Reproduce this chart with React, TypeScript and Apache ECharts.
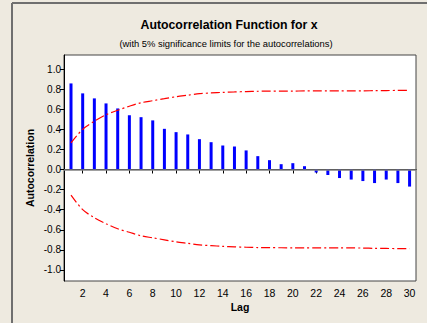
import React, { useEffect, useRef } from "react";
import * as echarts from "echarts";

const lags = [1, 2, 3, 4, 5, 6, 7, 8, 9, 10, 11, 12, 13, 14, 15, 16, 17, 18, 19, 20, 21, 22, 23, 24, 25, 26, 27, 28, 29, 30];
const acf = [0.857, 0.758, 0.708, 0.658, 0.608, 0.541, 0.521, 0.489, 0.405, 0.372, 0.349, 0.302, 0.272, 0.239, 0.229, 0.19, 0.133, 0.093, 0.053, 0.063, 0.033, -0.03, -0.055, -0.085, -0.1, -0.115, -0.135, -0.1, -0.135, -0.17];
const upperLimit = [0.265, 0.4, 0.48, 0.545, 0.59, 0.63, 0.665, 0.685, 0.705, 0.725, 0.74, 0.755, 0.762, 0.768, 0.772, 0.776, 0.779, 0.78, 0.781, 0.781, 0.782, 0.782, 0.782, 0.783, 0.783, 0.783, 0.785, 0.786, 0.787, 0.787];
const lowerLimit = [-0.255, -0.4, -0.48, -0.54, -0.59, -0.625, -0.66, -0.68, -0.7, -0.72, -0.735, -0.75, -0.758, -0.765, -0.77, -0.774, -0.777, -0.778, -0.779, -0.78, -0.78, -0.78, -0.781, -0.781, -0.781, -0.782, -0.785, -0.786, -0.787, -0.787];
const xTicks = [2, 4, 6, 8, 10, 12, 14, 16, 18, 20, 22, 24, 26, 28, 30];
const yTicks = [-1.0, -0.8, -0.6, -0.4, -0.2, 0.0, 0.2, 0.4, 0.6, 0.8, 1.0];

const FONT = "'Liberation Sans', Arial, sans-serif";

export default function App() {
  const ref = useRef<HTMLDivElement>(null);
  useEffect(() => {
    if (!ref.current) return;
    const chart = echarts.init(ref.current, null, { renderer: "svg" });
    chart.setOption({
      animation: false,
      backgroundColor: "#EEEAE0",
      grid: {
        left: 64,
        right: 11,
        top: 55,
        bottom: 42,
        show: true,
        backgroundColor: "#ffffff",
        borderColor: "#444444",
        borderWidth: 1,
      },
      xAxis: {
        type: "value",
        min: 0.4,
        max: 30.55,
        axisLine: { show: true, lineStyle: { color: "#000", width: 1 } },
        axisTick: { show: true, customValues: xTicks, length: 4, lineStyle: { color: "#000" } },
        axisLabel: {
          customValues: xTicks,
          color: "#000",
          fontFamily: FONT,
          fontSize: 10.5,
          margin: 6,
        },
        splitLine: { show: false },
      },
      yAxis: {
        type: "value",
        min: -1.11,
        max: 1.14,
        axisLine: { show: true, lineStyle: { color: "#000", width: 1 } },
        axisTick: { show: true, customValues: yTicks, length: 4, lineStyle: { color: "#000" } },
        axisLabel: {
          customValues: yTicks,
          color: "#000",
          fontFamily: FONT,
          fontSize: 10,
          margin: 3,
          formatter: (v: number) => v.toFixed(1),
        },
        splitLine: { show: false },
      },
      graphic: [
        { type: "line", shape: { x1: 12, y1: 3, x2: 427, y2: 3 }, style: { stroke: "#6f6f6f", lineWidth: 2 } },
        { type: "line", shape: { x1: 12, y1: 3, x2: 12, y2: 323 }, style: { stroke: "#6f6f6f", lineWidth: 2 } },
        {
          type: "text",
          x: 229,
          y: 25,
          style: {
            text: "Autocorrelation Function for x",
            font: `bold 12.3px ${FONT}`,
            fill: "#000",
            align: "center",
            verticalAlign: "middle",
          },
        },
        {
          type: "text",
          x: 226,
          y: 43,
          style: {
            text: "(with 5% significance limits for the autocorrelations)",
            font: `9.4px ${FONT}`,
            fill: "#000",
            align: "center",
            verticalAlign: "middle",
          },
        },
        {
          type: "text",
          x: 240,
          y: 307,
          style: {
            text: "Lag",
            font: `bold 10.5px ${FONT}`,
            fill: "#000",
            align: "center",
            verticalAlign: "middle",
          },
        },
        {
          type: "text",
          x: 30,
          y: 168,
          rotation: Math.PI / 2,
          style: {
            text: "Autocorrelation",
            font: `bold 10.5px ${FONT}`,
            fill: "#000",
            align: "center",
            verticalAlign: "middle",
          },
        },
      ],
      series: [
        {
          type: "bar",
          data: lags.map((l, i) => [l, acf[i]]),
          barWidth: 3,
          itemStyle: { color: "#0000FF" },
          markLine: {
            silent: true,
            symbol: "none",
            label: { show: false },
            lineStyle: { color: "#808080", width: 1.5, type: "solid" },
            data: [{ yAxis: 0 }],
          },
          z: 3,
        },
        {
          type: "line",
          data: lags.map((l, i) => [l, upperLimit[i]]),
          showSymbol: false,
          smooth: 0.3,
          lineStyle: { color: "#FF0000", width: 1.2, type: [9, 3, 2, 3] },
          z: 4,
        },
        {
          type: "line",
          data: lags.map((l, i) => [l, lowerLimit[i]]),
          showSymbol: false,
          smooth: 0.3,
          lineStyle: { color: "#FF0000", width: 1.2, type: [9, 3, 2, 3] },
          z: 4,
        },
      ],
    });
    return () => chart.dispose();
  }, []);
  return (
    <div
      ref={ref}
      style={{ position: "fixed", left: 0, top: 0, width: 427, height: 323 }}
    />
  );
}
